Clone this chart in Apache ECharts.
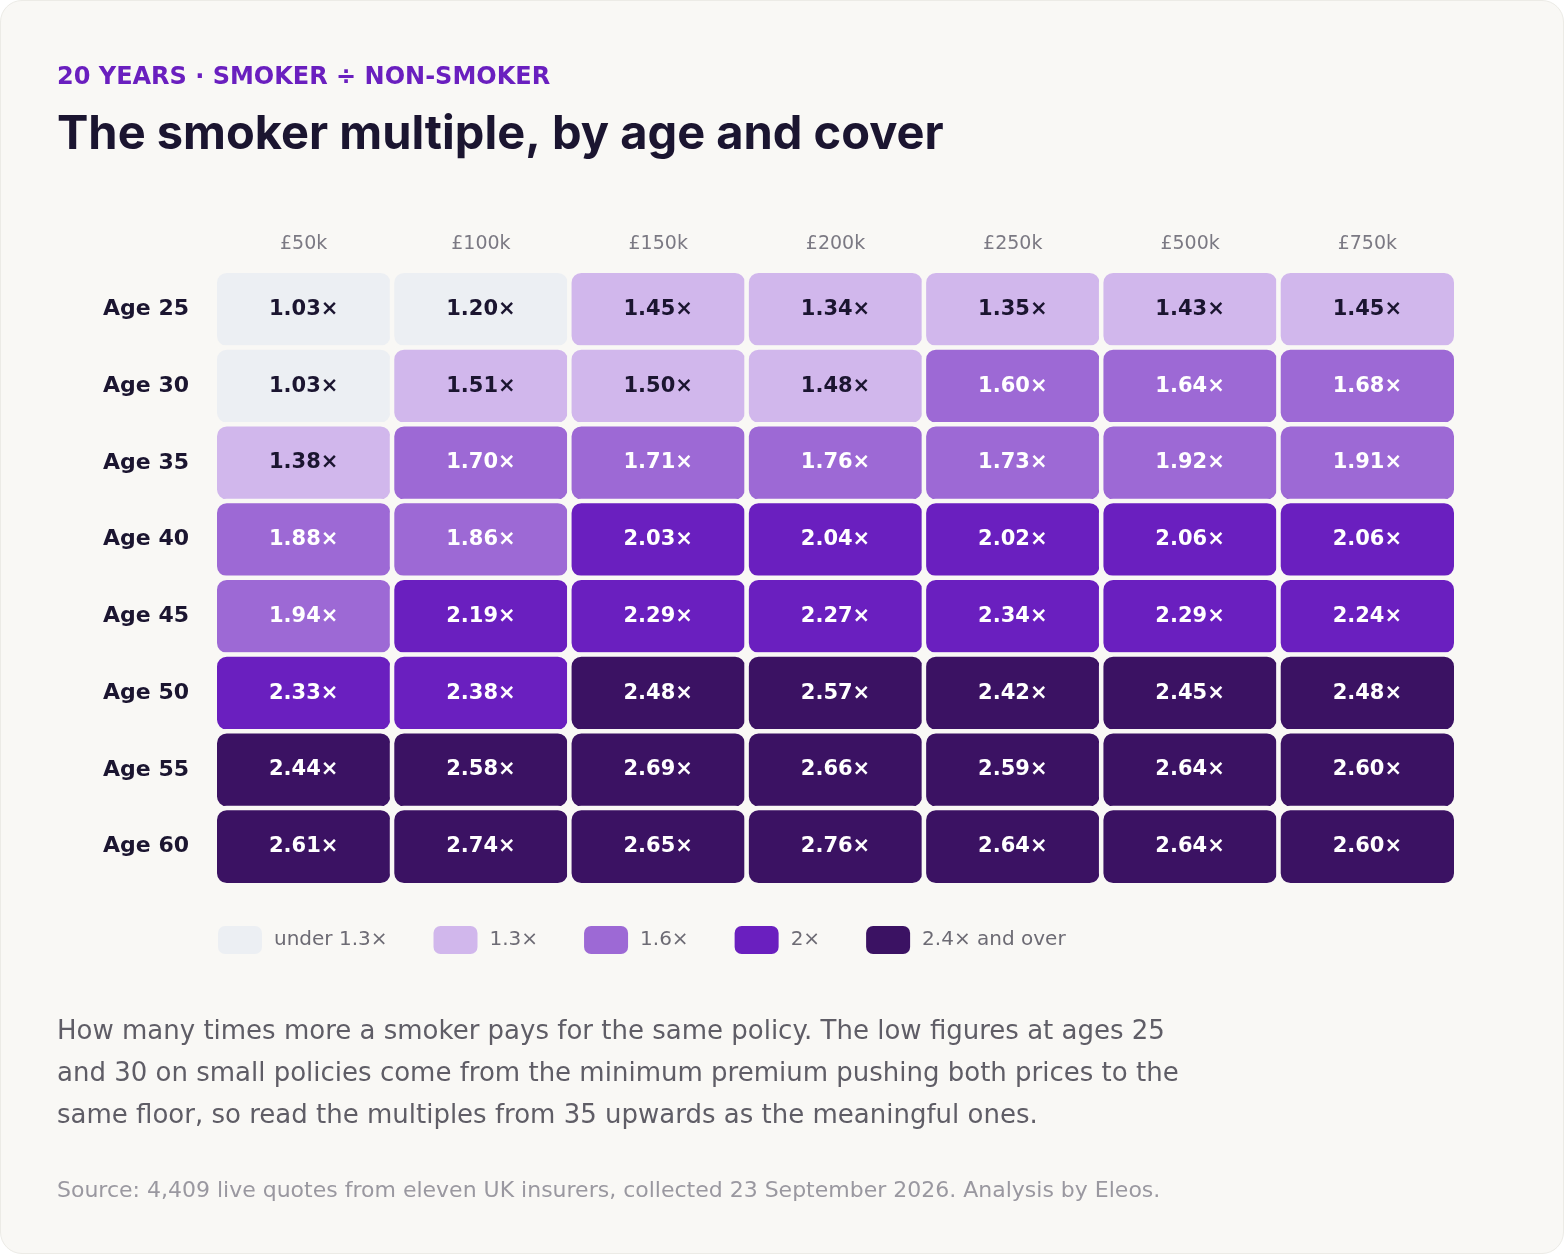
<!DOCTYPE html>
<html>
<head>
<meta charset="UTF-8">
<title>Smoker multiple</title>
<script src="https://cdn.jsdelivr.net/npm/echarts@6/dist/echarts.min.js"></script>
<style>
  html, body { margin: 0; padding: 0; background: #ffffff; }
  #card { position: absolute; left: 0; top: 0; width: 1562px; height: 1252px; background: #f9f8f5;
          border: 1px solid #ecebe6; border-radius: 22px; }
  #chart { width: 1562px; height: 1252px; }
</style>
</head>
<body>
<div id="card"><div id="chart"></div></div>
<script>
var covers = ['£50k', '£100k', '£150k', '£200k', '£250k', '£500k', '£750k'];
var ages = ['Age 25', 'Age 30', 'Age 35', 'Age 40', 'Age 45', 'Age 50', 'Age 55', 'Age 60'];
var multiples = [
  [1.03, 1.20, 1.45, 1.34, 1.35, 1.43, 1.45],
  [1.03, 1.51, 1.50, 1.48, 1.60, 1.64, 1.68],
  [1.38, 1.70, 1.71, 1.76, 1.73, 1.92, 1.91],
  [1.88, 1.86, 2.03, 2.04, 2.02, 2.06, 2.06],
  [1.94, 2.19, 2.29, 2.27, 2.34, 2.29, 2.24],
  [2.33, 2.38, 2.48, 2.57, 2.42, 2.45, 2.48],
  [2.44, 2.58, 2.69, 2.66, 2.59, 2.64, 2.60],
  [2.61, 2.74, 2.65, 2.76, 2.64, 2.64, 2.60]
];
var bandColors = ['#eceff3', '#d1b7ec', '#9d69d5', '#6a1fbf', '#3b1263'];

var cells = [];
multiples.forEach(function (row, r) {
  row.forEach(function (v, c) { cells.push([c, r, v]); });
});

var chart = echarts.init(document.getElementById('chart'));
var sans = 'Inter, "Noto Sans", sans-serif';
var body = '"DejaVu Sans", sans-serif';
chart.setOption({
  backgroundColor: 'transparent',
  textStyle: { fontFamily: sans },
  title: [
    { text: '20 YEARS · SMOKER ÷ NON-SMOKER', left: 51, top: 60,
      textStyle: { color: '#6a1fbf', fontSize: 24, fontWeight: 'bold', fontFamily: body } },
    { text: 'The smoker multiple, by age and cover', left: 51, top: 105,
      textStyle: { color: '#1b1530', fontSize: 47, fontWeight: 'bold', fontFamily: sans } },
    { text: 'How many times more a smoker pays for the same policy. The low figures at ages 25\nand 30 on small policies come from the minimum premium pushing both prices to the\nsame floor, so read the multiples from 35 upwards as the meaningful ones.',
      left: 51, top: 1005,
      textStyle: { color: '#5f5d66', fontSize: 26, lineHeight: 42, fontWeight: 'normal', fontFamily: body } },
    { text: 'Source: 4,409 live quotes from eleven UK insurers, collected 23 September 2026. Analysis by Eleos.',
      left: 51, top: 1174,
      textStyle: { color: '#9a98a0', fontSize: 22, fontWeight: 'normal', fontFamily: body } }
  ],
  grid: { left: 214, top: 270, width: 1241, height: 614 },
  xAxis: {
    type: 'category', data: covers, position: 'top',
    axisLine: { show: false }, axisTick: { show: false }, splitLine: { show: false },
    axisLabel: { color: '#7b7983', fontSize: 19, margin: 17, fontFamily: body }
  },
  yAxis: {
    type: 'category', data: ages, inverse: true,
    axisLine: { show: false }, axisTick: { show: false }, splitLine: { show: false },
    axisLabel: { color: '#1b1530', fontSize: 22, fontWeight: 'bold', margin: 26, fontFamily: body }
  },
  visualMap: {
    type: 'piecewise', orient: 'horizontal', left: 202, top: 910,
    itemWidth: 44, itemHeight: 28, itemGap: 46, itemSymbol: 'roundRect',
    textGap: 12, showLabel: true, selectedMode: false,
    textStyle: { color: '#6d6b74', fontSize: 20, fontFamily: body },
    pieces: [
      { lt: 1.3, label: 'under 1.3×', color: bandColors[0] },
      { gte: 1.3, lt: 1.6, label: '1.3×', color: bandColors[1] },
      { gte: 1.6, lt: 2.0, label: '1.6×', color: bandColors[2] },
      { gte: 2.0, lt: 2.4, label: '2×', color: bandColors[3] },
      { gte: 2.4, label: '2.4× and over', color: bandColors[4] }
    ]
  },
  series: [{
    type: 'heatmap',
    data: cells.map(function (d) {
      return { value: d, label: { color: d[2] >= 1.6 ? '#ffffff' : '#1b1530' } };
    }),
    itemStyle: { borderColor: '#f9f8f5', borderWidth: 4.5, borderRadius: 12 },
    emphasis: { disabled: true },
    label: {
      show: true, fontSize: 21, fontWeight: 'bold', fontFamily: body,
      formatter: function (p) { return p.value[2].toFixed(2) + '×'; }
    }
  }]
});
</script>
</body>
</html>
